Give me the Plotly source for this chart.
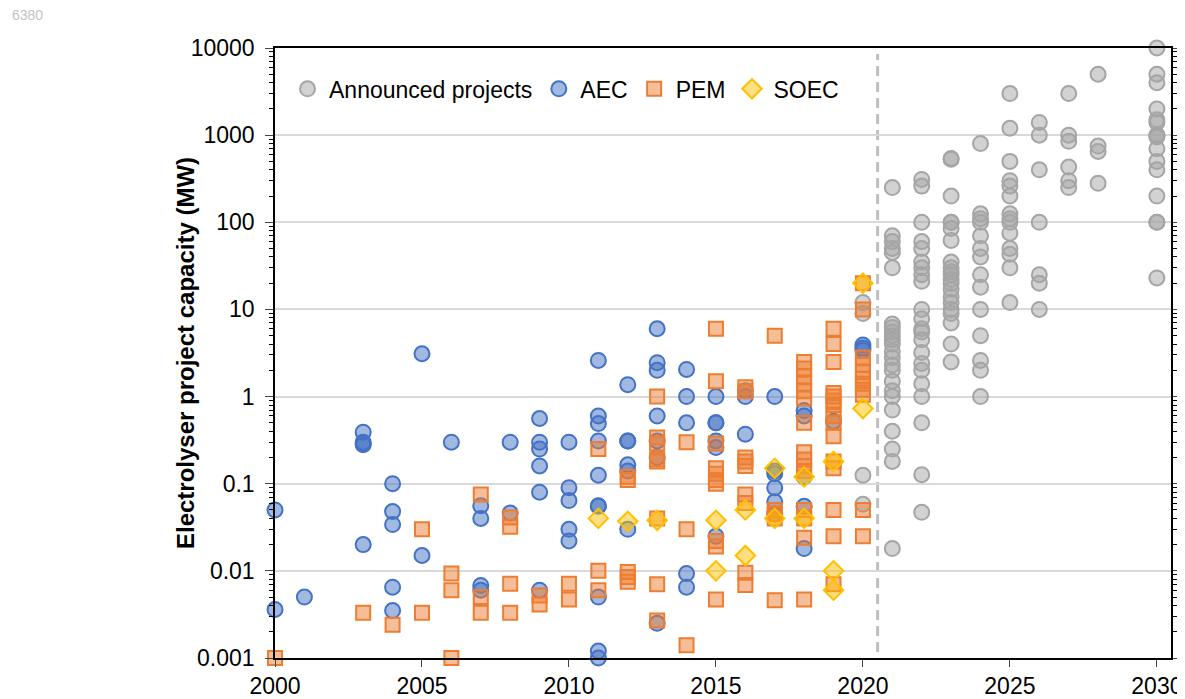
"""Electrolyser project capacity by year and technology, log scale scatter."""

import plotly.graph_objects as go

FONT = "Arial, Liberation Sans, sans-serif"

# capacity in MW, keyed by commissioning year
announced = {
    2020: [12, 9, 0.125, 0.058],
    2021: [250, 70, 60, 50, 45, 30, 6.8, 6.2, 5.5, 5, 4.5, 4, 3.3, 2.8, 2.3, 2,
           1.5, 1.17, 1, 0.7, 0.4, 0.25, 0.18, 0.018],
    2022: [310, 260, 100, 60, 50, 35, 30, 25, 21, 10, 7.8, 6, 5.5, 4.5, 3.2,
           2.4, 2, 1.4, 1, 0.5, 0.127, 0.047],
    2023: [540, 530, 200, 100, 100, 85, 62, 35, 30, 27, 25, 22, 20, 17, 14,
           12, 10, 9, 7, 4, 2.5],
    2024: [800, 125, 110, 100, 70, 50, 40, 25, 18, 10, 5, 2.6, 2, 1],
    2025: [3000, 1200, 500, 300, 260, 200, 125, 110, 100, 75, 50, 43, 30, 12],
    2026: [1400, 1000, 400, 100, 25, 20, 10],
    2027: [3000, 1000, 850, 430, 300, 250],
    2028: [5000, 750, 650, 280],
    2030: [10000, 5000, 4000, 2000, 1500, 1400, 1000, 1000, 950, 700, 500,
           400, 200, 100, 100, 23],
}
aec = {
    2000: [0.05, 0.0036],
    2001: [0.005],
    2003: [0.39, 0.3, 0.29, 0.28, 0.02],
    2004: [0.1, 0.048, 0.034, 0.0065, 0.0035],
    2005: [3.1, 0.015],
    2006: [0.3],
    2007: [0.056, 0.04, 0.0068, 0.006],
    2008: [0.3, 0.046],
    2009: [0.56, 0.3, 0.25, 0.16, 0.08, 0.006],
    2010: [0.3, 0.09, 0.064, 0.03, 0.022],
    2011: [2.6, 0.6, 0.49, 0.31, 0.125, 0.056, 0.055, 0.005, 0.0012, 0.001],
    2012: [1.37, 0.31, 0.31, 0.165, 0.14, 0.03],
    2013: [6, 2.45, 2.0, 0.6, 0.31, 0.2, 0.0025],
    2014: [2.05, 1.0, 0.5, 0.0093, 0.0065],
    2015: [1.0, 0.5, 0.5, 0.31, 0.26, 0.025],
    2016: [1.17, 1.0, 0.37],
    2017: [1.0, 0.14, 0.13, 0.09, 0.062, 0.045],
    2018: [0.69, 0.6, 0.12, 0.055, 0.018],
    2019: [0.52],
    2020: [3.9, 3.6, 3.4],
}
pem = {
    2000: [0.001],
    2003: [0.0033],
    2004: [0.0024],
    2005: [0.03, 0.0033],
    2006: [0.0093, 0.006, 0.001],
    2007: [0.075, 0.005, 0.0033],
    2008: [0.041, 0.032, 0.0071, 0.0033],
    2009: [0.0052, 0.0041],
    2010: [0.0071, 0.0047],
    2011: [0.25, 0.01, 0.006],
    2012: [0.12, 0.11, 0.0097, 0.0085, 0.0075],
    2013: [1.0, 0.34, 0.29, 0.19, 0.18, 0.04, 0.007, 0.0027],
    2014: [0.3, 0.03, 0.0014],
    2015: [6, 1.5, 0.29, 0.15, 0.13, 0.11, 0.1, 0.022, 0.019, 0.0047],
    2016: [1.28, 1.15, 0.2, 0.18, 0.16, 0.075, 0.06, 0.0095, 0.0069],
    2017: [5, 0.05, 0.045, 0.04, 0.0046],
    2018: [2.5, 2.1, 1.7, 1.4, 1.15, 0.95, 0.5, 0.23, 0.19, 0.16, 0.14, 0.05,
           0.04, 0.024, 0.0047],
    2019: [6, 4, 2.5, 1.1, 1.0, 0.9, 0.8, 0.6, 0.5, 0.35, 0.18, 0.15, 0.05,
           0.025, 0.007],
    2020: [20, 10, 2.8, 2.3, 1.9, 1.6, 1.4, 1.2, 1.05, 0.05, 0.025],
}
soec = {
    2011: [0.04],
    2012: [0.037],
    2013: [0.038],
    2015: [0.038, 0.01],
    2016: [0.05, 0.015],
    2017: [0.15, 0.04],
    2018: [0.12, 0.04],
    2019: [0.18, 0.01, 0.006],
    2020: [20, 0.73],
}

y_ticks = [0.001, 0.01, 0.1, 1, 10, 100, 1000, 10000]
y_labels = ["0.001", "0.01", "0.1", "1", "10", "100", "1000", "10000"]
x_ticks = [2000, 2005, 2010, 2015, 2020, 2025, 2030]


def flat(d):
    xs, ys = [], []
    for yr, vals in d.items():
        xs += [yr] * len(vals)
        ys += vals
    return xs, ys


series = [
    ("Announced projects", announced, "circle", 15, "rgba(165,165,165,0.5)", "#A5A5A5"),
    ("AEC", aec, "circle", 15, "rgba(68,114,196,0.5)", "#4472C4"),
    ("PEM", pem, "square", 14, "rgba(237,125,49,0.5)", "#ED7D31"),
    ("SOEC", soec, "diamond", 15, "rgba(255,192,0,0.5)", "#FFC000"),
]

fig = go.Figure()
for name, d, sym, size, fill, edge in series:
    xs, ys = flat(d)
    fig.add_trace(go.Scatter(
        x=xs, y=ys, mode="markers", name=name, cliponaxis=False,
        marker=dict(symbol=sym, size=size, color=fill, line=dict(color=edge, width=2)),
    ))

# split between installed and announced
fig.add_shape(type="line", xref="x", yref="paper", x0=2020.5, x1=2020.5, y0=0.01, y1=0.99,
              line=dict(color="#BFBFBF", width=3, dash="10px,6px"), layer="below")

minor_vals = [m * 10 ** e for e in range(-3, 4) for m in range(2, 10)]

# page has an 8px body margin, so margins are shifted to put the plot box at 275..1171 x 48..658
fig.update_layout(
    width=1185, height=699,
    margin=dict(l=267, r=22, t=40, b=49),
    paper_bgcolor="white", plot_bgcolor="white",
    font=dict(family=FONT, size=23, color="black"),
    showlegend=True,
    legend=dict(orientation="h", x=0.0123, y=0.933, xanchor="left", yanchor="middle",
                bgcolor="rgba(0,0,0,0)", font=dict(size=23), itemwidth=33,
                traceorder="normal"),
    xaxis=dict(range=[2000, 2030.48], tickvals=x_ticks, ticks="outside", ticklen=7,
               showline=True, linecolor="black", linewidth=1.5, mirror=True,
               showgrid=False, zeroline=False, tickfont=dict(size=23), automargin=False),
    yaxis=dict(type="log", range=[-3, 4], tickvals=y_ticks, ticktext=y_labels,
               ticks="outside", ticklen=8, showline=True, linecolor="black",
               linewidth=1.5, mirror="ticks", showgrid=True, gridcolor="#D9D9D9",
               gridwidth=1.5, zeroline=False, tickfont=dict(size=23),
               ticklabelstandoff=6, automargin=False,
               minor=dict(tickvals=minor_vals, ticks="outside", ticklen=4,
                          tickcolor="black", showgrid=False)),
    annotations=[
        dict(text="6380", xref="paper", yref="paper", x=-0.2958, y=1.054,
             xanchor="left", yanchor="middle", showarrow=False,
             font=dict(size=14, color="#C4C4C4")),
        dict(text="<b>Electrolyser project capacity (MW)</b>", xref="paper", yref="paper",
             x=-0.1004, y=0.5, xanchor="center", yanchor="middle", textangle=-90,
             showarrow=False, font=dict(size=24)),
    ],
)

fig.write_html("out.html")
